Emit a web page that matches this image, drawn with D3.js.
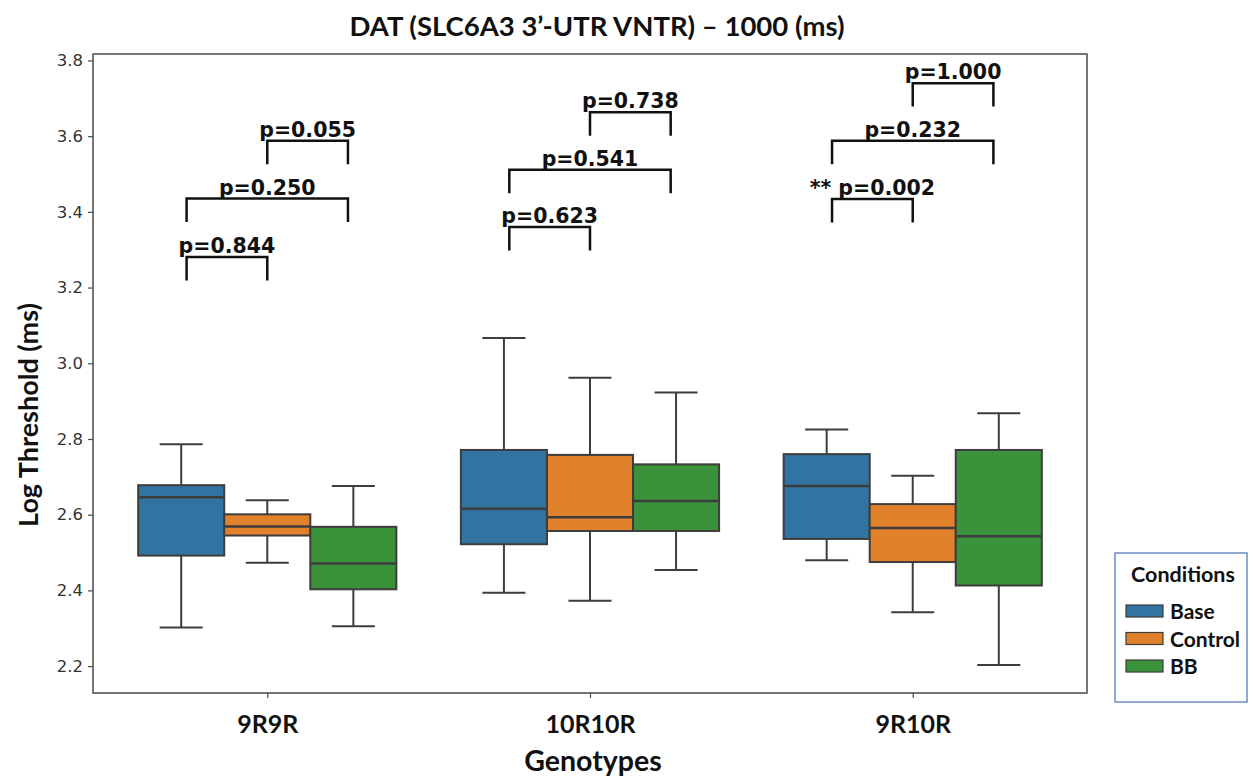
<!DOCTYPE html>
<html>
<head>
<meta charset="utf-8">
<script src="https://cdn.jsdelivr.net/npm/d3@7"></script>
<style>
  html, body { margin: 0; padding: 0; background: #fff; }
  svg { display: block; }
</style>
</head>
<body>
<svg id="chart" width="1253" height="782"></svg>
<script>
// Genotype groups on the x axis and hue conditions inside each group
const genotypes = ["9R9R", "10R10R", "9R10R"];
const conditions = ["Base", "Control", "BB"];
const conditionColors = ["#3274a1", "#e1812c", "#3a923a"];

// Box summaries per genotype: [lower whisker, Q1, median, Q3, upper whisker]
const baseStats = [
  [2.302, 2.492, 2.646, 2.678, 2.786],
  [2.394, 2.522, 2.616, 2.771, 3.067],
  [2.480, 2.536, 2.676, 2.760, 2.825]
];
const controlStats = [
  [2.473, 2.545, 2.569, 2.601, 2.638],
  [2.373, 2.557, 2.593, 2.758, 2.962],
  [2.342, 2.475, 2.565, 2.628, 2.703]
];
const bbStats = [
  [2.305, 2.403, 2.471, 2.568, 2.676],
  [2.454, 2.557, 2.636, 2.733, 2.923],
  [2.203, 2.413, 2.543, 2.771, 2.868]
];

// Pairwise comparison annotations
const pairGenotype = ["9R9R", "9R9R", "9R9R", "10R10R", "10R10R", "10R10R", "9R10R", "9R10R", "9R10R"];
const pairFrom     = ["Base", "Base", "Control", "Base", "Base", "Control", "Base", "Base", "Control"];
const pairTo       = ["Control", "BB", "BB", "Control", "BB", "BB", "Control", "BB", "BB"];
const pairLevel    = [3.281, 3.435, 3.588, 3.360, 3.511, 3.663, 3.434, 3.588, 3.740];
const pairLabel    = ["p=0.844", "p=0.250", "p=0.055", "p=0.623", "p=0.541", "p=0.738", "** p=0.002", "p=0.232", "p=1.000"];

const yTicks = [2.2, 2.4, 2.6, 2.8, 3.0, 3.2, 3.4, 3.6, 3.8];

const statsByCondition = [baseStats, controlStats, bbStats];

const svg = d3.select("#chart");
const plot = { left: 93, right: 1087, top: 54, bottom: 693 };

const x = d3.scalePoint().domain(genotypes).range([plot.left, plot.right]).padding(0.54);
const y = d3.scaleLinear().domain([2.129, 3.817]).range([plot.bottom, plot.top]);
const hue = d3.scaleBand().domain(conditions).range([-0.4 * x.step(), 0.4 * x.step()]);
const bracketHue = d3.scalePoint().domain(conditions).range([-0.25 * x.step(), 0.25 * x.step()]);

const boxStroke = "#3d3d3d";
const axisColor = "#4a4a4a";
const labelFont = "Lato";

// Y axis
const yAxis = svg.append("g")
  .attr("transform", `translate(${plot.left},0)`)
  .call(d3.axisLeft(y).tickValues(yTicks).tickFormat(d3.format(".1f")).tickSize(5).tickPadding(5));
yAxis.select(".domain").remove();
yAxis.selectAll(".tick line").attr("stroke", axisColor).attr("stroke-width", 1.2);
yAxis.selectAll(".tick text")
  .attr("font-family", "DejaVu Sans")
  .attr("font-size", 16.5)
  .attr("fill", "#333");

// X axis
const xAxis = svg.append("g")
  .attr("transform", `translate(0,${plot.bottom})`)
  .call(d3.axisBottom(x).tickSize(5).tickPadding(17));
xAxis.select(".domain").remove();
xAxis.selectAll(".tick line").attr("stroke", axisColor).attr("stroke-width", 1.2);
xAxis.selectAll(".tick text")
  .attr("font-family", labelFont)
  .attr("font-weight", "bold")
  .attr("font-size", 25)
  .attr("fill", "#111");

// Frame around the plotting area
svg.append("rect")
  .attr("x", plot.left).attr("y", plot.top)
  .attr("width", plot.right - plot.left).attr("height", plot.bottom - plot.top)
  .attr("fill", "none").attr("stroke", axisColor).attr("stroke-width", 1.5);

// Boxes
const boxes = [];
genotypes.forEach((g, gi) => {
  conditions.forEach((c, ci) => {
    const s = statsByCondition[ci][gi];
    boxes.push({ g, c, ci, lo: s[0], q1: s[1], med: s[2], q3: s[3], hi: s[4] });
  });
});

const boxG = svg.append("g").selectAll("g").data(boxes).join("g")
  .attr("transform", d => `translate(${x(d.g) + hue(d.c)},0)`);
const bw = hue.bandwidth();

// whisker stems
boxG.append("line")
  .attr("x1", bw / 2).attr("x2", bw / 2)
  .attr("y1", d => y(d.hi)).attr("y2", d => y(d.q3))
  .attr("stroke", boxStroke).attr("stroke-width", 2);
boxG.append("line")
  .attr("x1", bw / 2).attr("x2", bw / 2)
  .attr("y1", d => y(d.q1)).attr("y2", d => y(d.lo))
  .attr("stroke", boxStroke).attr("stroke-width", 2);
// caps
boxG.append("line")
  .attr("x1", bw / 4).attr("x2", bw * 3 / 4)
  .attr("y1", d => y(d.hi)).attr("y2", d => y(d.hi))
  .attr("stroke", boxStroke).attr("stroke-width", 2);
boxG.append("line")
  .attr("x1", bw / 4).attr("x2", bw * 3 / 4)
  .attr("y1", d => y(d.lo)).attr("y2", d => y(d.lo))
  .attr("stroke", boxStroke).attr("stroke-width", 2);
// box body
boxG.append("rect")
  .attr("x", 0).attr("width", bw)
  .attr("y", d => y(d.q3)).attr("height", d => y(d.q1) - y(d.q3))
  .attr("fill", d => conditionColors[d.ci])
  .attr("stroke", boxStroke).attr("stroke-width", 2);
// median
boxG.append("line")
  .attr("x1", 0).attr("x2", bw)
  .attr("y1", d => y(d.med)).attr("y2", d => y(d.med))
  .attr("stroke", boxStroke).attr("stroke-width", 2.5);

// Significance brackets
const legDrop = 0.062;
const brackets = pairLabel.map((label, i) => ({
  x1: x(pairGenotype[i]) + bracketHue(pairFrom[i]),
  x2: x(pairGenotype[i]) + bracketHue(pairTo[i]),
  level: pairLevel[i],
  label
}));
const brG = svg.append("g").selectAll("g").data(brackets).join("g");
brG.append("path")
  .attr("d", d => `M${d.x1},${y(d.level - legDrop)}V${y(d.level)}H${d.x2}V${y(d.level - legDrop)}`)
  .attr("fill", "none").attr("stroke", "#111").attr("stroke-width", 2.5);
brG.append("text")
  .attr("x", d => (d.x1 + d.x2) / 2)
  .attr("y", d => y(d.level) - 4)
  .attr("text-anchor", "middle")
  .attr("font-family", "DejaVu Sans")
  .attr("font-weight", "bold")
  .attr("font-size", 20.5)
  .attr("fill", "#111")
  .text(d => d.label);

// Title and axis labels
svg.append("text")
  .attr("x", 597).attr("y", 36)
  .attr("text-anchor", "middle")
  .attr("font-family", labelFont).attr("font-weight", "bold").attr("font-size", 27.5)
  .attr("fill", "#111")
  .text("DAT (SLC6A3 3’-UTR VNTR) – 1000 (ms)");

svg.append("text")
  .attr("transform", "translate(38,415) rotate(-90)")
  .attr("text-anchor", "middle")
  .attr("font-family", labelFont).attr("font-weight", "bold").attr("font-size", 27)
  .attr("fill", "#111")
  .text("Log Threshold (ms)");

svg.append("text")
  .attr("x", 593).attr("y", 771)
  .attr("text-anchor", "middle")
  .attr("font-family", labelFont).attr("font-weight", "bold").attr("font-size", 28.5)
  .attr("fill", "#111")
  .text("Genotypes");

// Legend
const legend = svg.append("g").attr("transform", "translate(1115,553)");
legend.append("rect")
  .attr("width", 132).attr("height", 149)
  .attr("fill", "#fff").attr("stroke", "#6d8cc4").attr("stroke-width", 1.5);
legend.append("text")
  .attr("x", 68).attr("y", 29)
  .attr("text-anchor", "middle")
  .attr("font-family", labelFont).attr("font-weight", "bold").attr("font-size", 21.5)
  .attr("fill", "#111")
  .text("Conditions");
const item = legend.selectAll("g.item").data(conditions).join("g")
  .attr("class", "item")
  .attr("transform", (d, i) => `translate(0,${52 + i * 27.5})`);
item.append("rect")
  .attr("x", 11).attr("width", 37).attr("height", 12)
  .attr("fill", (d, i) => conditionColors[i])
  .attr("stroke", boxStroke).attr("stroke-width", 1.2);
item.append("text")
  .attr("x", 55).attr("y", 14)
  .attr("font-family", labelFont).attr("font-weight", "bold").attr("font-size", 21)
  .attr("fill", "#111")
  .text(d => d);
</script>
</body>
</html>
